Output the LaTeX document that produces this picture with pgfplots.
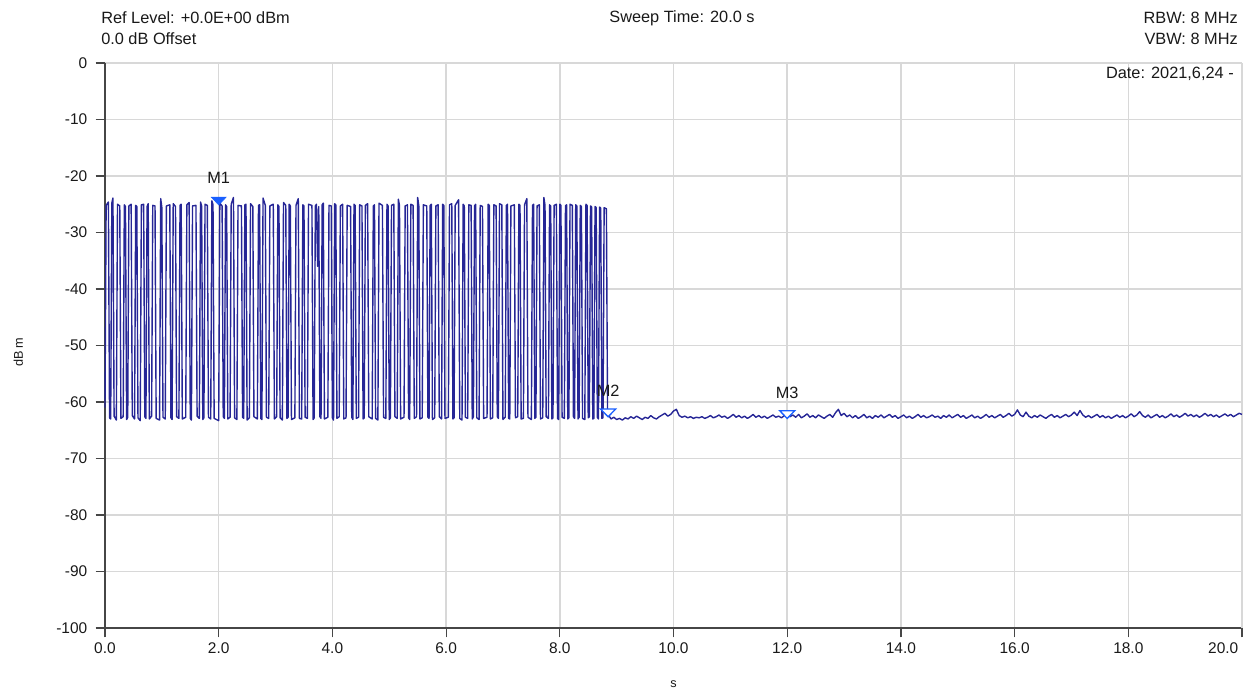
\documentclass[border=0pt]{standalone}
\usepackage{pgfplots}
\pgfplotsset{compat=1.18}
\usepackage{fontspec}
\setmainfont{Liberation Sans}
\definecolor{trace}{RGB}{38,38,150}
\definecolor{mk}{RGB}{25,95,255}
\definecolor{gridc}{RGB}{216,216,216}
\definecolor{axc}{RGB}{70,70,70}
\definecolor{txt}{RGB}{25,25,25}
\begin{document}
\fontsize{12.25}{14}\selectfont
\begin{tikzpicture}
\begin{axis}[
 scale only axis, width=852.75pt, height=423.75pt,
 xmin=0, xmax=20, ymin=-100, ymax=0,
 axis x line*=bottom, axis y line*=left,
 xtick={0,2,4,6,8,10,12,14,16,18},
 extra x ticks={20},
 extra x tick style={grid=major, x tick label style={anchor=north east, xshift=1.5pt}},
 ytick={-100,-90,-80,-70,-60,-50,-40,-30,-20,-10,0},
 grid=major, major grid style={draw=gridc, line width=1.1pt},
 axis line style={draw=axc, line width=1.4pt},
 tick align=outside, major tick length=7pt,
 tick style={draw=axc, line width=0.9pt},
 x tick label style={/pgf/number format/fixed, /pgf/number format/fixed zerofill, /pgf/number format/precision=1},
 y tick label style={xshift=-2pt},
 /pgf/number format/assume math mode=true,
 ticklabel style={font=\fontsize{11.6}{13}\selectfont, text=txt},
 xlabel={s}, ylabel={dB\,m},
 xlabel style={at={(axis description cs:0.5,0)}, anchor=center, yshift=-42pt, font=\fontsize{9.5}{11}\selectfont, text=txt},
 ylabel style={at={(axis description cs:-0.0762,0.488)}, anchor=center, font=\fontsize{9.5}{11}\selectfont, text=txt},
 clip=false,
]
\addplot[color=trace, line width=1.05pt, line join=round] table {
x y
0.00 -61.0
0.02 -25.2
0.06 -24.6
0.08 -62.8
0.10 -63.0
0.12 -24.8
0.14 -23.9
0.16 -62.5
0.20 -63.2
0.22 -25.0
0.26 -25.3
0.28 -62.9
0.32 -62.6
0.34 -25.1
0.36 -25.4
0.38 -63.1
0.40 -62.7
0.42 -25.3
0.46 -25.0
0.48 -62.4
0.52 -63.0
0.54 -25.2
0.56 -25.4
0.58 -62.8
0.62 -63.3
0.64 -25.1
0.68 -25.0
0.70 -62.6
0.72 -62.9
0.74 -25.4
0.76 -24.9
0.78 -63.0
0.82 -62.5
0.84 -25.2
0.88 -25.3
0.90 -62.9
0.96 -63.2
0.98 -24.0
1.00 -25.6
1.02 -62.7
1.06 -63.0
1.08 -25.3
1.14 -25.1
1.16 -62.8
1.18 -63.1
1.20 -24.9
1.24 -25.4
1.26 -62.6
1.30 -62.9
1.32 -25.2
1.34 -25.0
1.36 -63.0
1.42 -62.7
1.44 -25.1
1.48 -24.7
1.50 -62.9
1.52 -63.2
1.54 -25.3
1.60 -25.2
1.62 -62.5
1.66 -62.9
1.68 -24.6
1.70 -25.3
1.72 -63.1
1.74 -62.8
1.76 -25.0
1.80 -25.2
1.82 -62.7
1.86 -63.0
1.88 -24.4
1.90 -25.1
1.92 -62.9
2.00 -63.3
2.02 -24.8
2.06 -25.3
2.08 -62.6
2.10 -62.9
2.12 -25.1
2.14 -25.4
2.16 -63.0
2.20 -62.7
2.22 -25.0
2.26 -23.8
2.28 -62.8
2.32 -63.1
2.34 -25.2
2.40 -25.3
2.42 -62.7
2.44 -62.9
2.46 -25.1
2.48 -25.0
2.50 -63.2
2.54 -62.8
2.56 -24.9
2.60 -25.4
2.62 -62.6
2.68 -63.0
2.70 -25.2
2.72 -25.1
2.74 -62.9
2.76 -63.1
2.78 -23.9
2.82 -25.2
2.84 -62.7
2.88 -62.9
2.90 -25.3
2.96 -25.0
2.98 -63.0
3.02 -62.6
3.04 -25.1
3.06 -25.4
3.08 -62.8
3.12 -63.2
3.14 -24.7
3.18 -25.2
3.20 -62.9
3.22 -62.7
3.24 -25.0
3.26 -25.3
3.28 -63.1
3.34 -62.8
3.36 -25.2
3.40 -24.0
3.42 -62.9
3.46 -63.0
3.48 -25.1
3.50 -25.3
3.52 -62.7
3.56 -62.9
3.58 -25.0
3.64 -25.2
3.66 -63.1
3.68 -62.8
3.70 -25.3
3.72 -25.0
3.74 -36.0
3.76 -25.4
3.78 -62.6
3.80 -62.9
3.82 -25.1
3.84 -24.8
3.86 -63.0
3.92 -62.7
3.94 -25.2
3.98 -25.3
4.00 -62.8
4.02 -63.2
4.04 -24.9
4.06 -25.1
4.08 -62.9
4.12 -62.6
4.14 -25.3
4.18 -25.0
4.20 -63.0
4.24 -62.8
4.26 -25.2
4.32 -25.4
4.34 -62.7
4.36 -63.1
4.38 -25.0
4.40 -25.2
4.42 -62.9
4.46 -62.7
4.48 -25.1
4.52 -25.3
4.54 -63.0
4.56 -62.8
4.58 -25.2
4.62 -24.9
4.64 -62.6
4.70 -63.0
4.72 -25.3
4.74 -25.1
4.76 -62.9
4.80 -63.2
4.82 -24.8
4.88 -25.2
4.90 -62.7
4.94 -62.9
4.96 -25.0
4.98 -25.3
5.00 -63.1
5.02 -62.8
5.04 -25.2
5.08 -25.0
5.10 -62.6
5.14 -62.9
5.16 -24.1
5.18 -25.2
5.20 -63.0
5.26 -62.7
5.28 -25.3
5.32 -25.1
5.34 -62.8
5.36 -63.1
5.38 -25.0
5.42 -25.2
5.44 -62.9
5.48 -62.6
5.50 -23.8
5.52 -25.3
5.54 -63.0
5.58 -62.8
5.60 -25.1
5.66 -25.3
5.68 -62.7
5.70 -62.9
5.72 -25.2
5.74 -25.0
5.76 -63.1
5.80 -62.8
5.82 -25.3
5.86 -25.1
5.88 -62.6
5.92 -63.0
5.94 -25.0
5.96 -25.2
5.98 -62.9
6.04 -62.7
6.06 -25.1
6.10 -24.9
6.12 -63.0
6.14 -62.8
6.16 -25.2
6.22 -24.2
6.24 -62.9
6.28 -63.2
6.30 -25.0
6.32 -25.3
6.34 -62.7
6.38 -62.9
6.40 -25.1
6.44 -25.2
6.46 -63.0
6.48 -62.6
6.50 -25.3
6.52 -25.0
6.54 -62.8
6.58 -63.1
6.60 -25.2
6.64 -25.4
6.66 -62.9
6.72 -62.7
6.74 -25.0
6.76 -25.2
6.78 -63.0
6.82 -62.8
6.84 -25.1
6.88 -25.3
6.90 -62.6
6.92 -62.9
6.94 -24.9
6.98 -25.1
7.00 -63.1
7.04 -62.7
7.06 -25.2
7.08 -25.0
7.10 -62.9
7.12 -63.0
7.14 -25.3
7.20 -25.1
7.22 -62.8
7.26 -62.6
7.28 -25.0
7.30 -25.2
7.32 -63.0
7.36 -62.9
7.38 -25.1
7.42 -24.0
7.44 -62.7
7.50 -63.1
7.52 -25.2
7.54 -25.0
7.56 -62.9
7.58 -62.7
7.60 -25.3
7.64 -25.1
7.66 -63.0
7.70 -62.8
7.72 -23.8
7.74 -25.2
7.76 -62.6
7.80 -62.9
7.82 -25.1
7.84 -25.3
7.86 -63.0
7.88 -62.8
7.90 -25.2
7.94 -25.0
7.96 -62.9
7.98 -63.1
8.00 -25.0
8.02 -25.2
8.04 -62.7
8.08 -62.9
8.10 -25.3
8.12 -25.1
8.14 -63.0
8.16 -62.8
8.18 -25.0
8.22 -25.2
8.24 -62.6
8.26 -62.9
8.28 -25.1
8.30 -25.3
8.32 -63.0
8.34 -62.7
8.36 -25.2
8.38 -25.4
8.40 -62.9
8.44 -63.1
8.46 -25.0
8.48 -25.2
8.50 -62.8
8.52 -62.6
8.54 -25.3
8.56 -25.5
8.58 -63.0
8.60 -62.9
8.62 -25.4
8.64 -25.6
8.66 -62.7
8.68 -63.0
8.70 -25.5
8.72 -25.7
8.74 -62.9
8.76 -62.8
8.78 -25.6
8.82 -25.8
8.84 -62.0
8.90 -63.0
8.95 -62.7
9.00 -63.1
9.05 -62.9
9.10 -63.2
9.15 -62.8
9.20 -63.0
9.25 -62.6
9.30 -62.9
9.35 -62.5
9.40 -62.8
9.45 -63.1
9.50 -62.7
9.55 -62.9
9.60 -62.4
9.65 -62.8
9.70 -63.0
9.75 -62.6
9.80 -62.3
9.85 -62.0
9.90 -62.5
9.95 -62.2
10.00 -61.6
10.05 -61.3
10.10 -62.4
10.15 -62.7
10.20 -62.5
10.25 -62.8
10.30 -62.6
10.35 -62.9
10.40 -62.7
10.45 -62.8
10.50 -62.6
10.55 -62.9
10.60 -62.7
10.65 -62.4
10.70 -62.8
10.75 -62.6
10.80 -62.3
10.85 -62.7
10.90 -62.5
10.95 -62.9
11.00 -62.6
11.05 -62.2
11.10 -62.7
11.15 -62.4
11.20 -62.8
11.25 -62.5
11.30 -62.9
11.35 -62.6
11.40 -62.2
11.45 -62.7
11.50 -62.4
11.55 -62.8
11.60 -62.5
11.65 -62.9
11.70 -62.6
11.75 -62.3
11.80 -62.7
11.85 -62.5
11.90 -62.8
11.95 -62.4
12.00 -62.2
12.05 -62.6
12.10 -62.3
12.15 -62.7
12.20 -62.2
12.25 -62.8
12.30 -62.5
12.35 -62.1
12.40 -62.7
12.45 -62.4
12.50 -62.8
12.55 -62.3
12.60 -62.6
12.65 -62.9
12.70 -62.5
12.75 -62.2
12.80 -62.7
12.85 -61.9
12.90 -61.3
12.95 -62.4
13.00 -62.0
13.05 -62.6
13.10 -62.3
13.15 -62.8
13.20 -62.4
13.25 -62.9
13.30 -62.6
13.35 -62.2
13.40 -62.8
13.45 -62.5
13.50 -62.9
13.55 -62.4
13.60 -62.7
13.65 -62.3
13.70 -62.8
13.75 -62.5
13.80 -62.2
13.85 -62.7
13.90 -62.4
13.95 -62.9
14.00 -62.6
14.05 -62.3
14.10 -62.8
14.15 -62.5
14.20 -62.9
14.25 -62.6
14.30 -62.2
14.35 -62.7
14.40 -62.4
14.45 -62.8
14.50 -62.6
14.55 -62.3
14.60 -62.7
14.65 -62.5
14.70 -62.9
14.75 -62.4
14.80 -62.7
14.85 -62.3
14.90 -62.8
14.95 -62.5
15.00 -62.2
15.05 -62.7
15.10 -62.4
15.15 -62.9
15.20 -62.6
15.25 -62.3
15.30 -62.8
15.35 -62.5
15.40 -62.9
15.45 -62.6
15.50 -62.2
15.55 -62.7
15.60 -62.4
15.65 -62.8
15.70 -62.5
15.75 -62.2
15.80 -62.7
15.85 -62.4
15.90 -62.0
15.95 -62.5
16.00 -62.2
16.05 -61.4
16.10 -62.3
16.15 -62.6
16.20 -61.8
16.25 -62.5
16.30 -62.8
16.35 -62.4
16.40 -62.7
16.45 -62.3
16.50 -62.6
16.55 -62.9
16.60 -62.5
16.65 -62.2
16.70 -62.7
16.75 -62.4
16.80 -62.8
16.85 -62.5
16.90 -62.2
16.95 -62.6
17.00 -62.3
17.05 -61.8
17.10 -62.4
17.15 -61.5
17.20 -62.3
17.25 -62.7
17.30 -62.4
17.35 -62.8
17.40 -62.5
17.45 -62.2
17.50 -62.7
17.55 -62.4
17.60 -62.8
17.65 -62.5
17.70 -62.9
17.75 -62.6
17.80 -62.3
17.85 -62.7
17.90 -62.4
17.95 -62.8
18.00 -62.5
18.05 -62.1
18.10 -62.6
18.15 -62.3
18.20 -61.7
18.25 -62.4
18.30 -62.7
18.35 -62.3
18.40 -62.8
18.45 -62.5
18.50 -62.2
18.55 -62.7
18.60 -62.4
18.65 -62.8
18.70 -62.5
18.75 -62.1
18.80 -62.6
18.85 -62.3
18.90 -62.7
18.95 -62.4
19.00 -62.0
19.05 -62.5
19.10 -62.2
19.15 -62.6
19.20 -62.3
19.25 -62.7
19.30 -62.4
19.35 -62.0
19.40 -62.5
19.45 -62.2
19.50 -62.6
19.55 -62.3
19.60 -62.7
19.65 -62.4
19.70 -62.1
19.75 -62.5
19.80 -62.2
19.85 -62.6
19.90 -62.3
19.95 -62.0
20.00 -62.2
};
% marker M1 (filled)
\addplot[only marks, mark=triangle*, mark size=6.5pt, color=mk,
  mark options={rotate=180, yscale=0.6, fill=mk, draw=mk},
  nodes near coords, point meta=explicit symbolic,
  every node near coord/.style={anchor=center, yshift=16.5pt, text=txt, font=\fontsize{12.25}{14}\selectfont}]
  coordinates {(2.0,-24.2) [M1]};
% markers M2, M3 (outlined)
\addplot[only marks, mark=triangle*, mark size=6.5pt, color=mk,
  mark options={rotate=180, yscale=0.6, fill=white, draw=mk, line width=1pt},
  nodes near coords, point meta=explicit symbolic,
  every node near coord/.style={anchor=center, yshift=15.5pt, text=txt, font=\fontsize{12.25}{14}\selectfont}]
  coordinates {(8.85,-61.7) [M2] (12.0,-62.0) [M3]};
\end{axis}
\node[anchor=west, text=txt, inner sep=0pt] at ([xshift=-3pt, yshift=33.75pt]current axis.north west) {Ref Level: +0.0E+00 dBm};
\node[anchor=west, text=txt, inner sep=0pt] at ([xshift=-3pt, yshift=18pt]current axis.north west) {0.0 dB Offset};
\node[anchor=center, text=txt, inner sep=0pt] at ([xshift=432.75pt, yshift=33.75pt]current axis.north west) {Sweep Time: 20.0 s};
\node[anchor=east, text=txt, inner sep=0pt] at ([xshift=-3pt, yshift=33.75pt]current axis.north east) {RBW: 8 MHz};
\node[anchor=east, text=txt, inner sep=0pt] at ([xshift=-3pt, yshift=18pt]current axis.north east) {VBW: 8 MHz};
\node[anchor=east, text=txt, inner sep=0pt] at ([xshift=-6pt, yshift=-8.25pt]current axis.north east) {Date: 2021,6,24 -};
\path ([xshift=-78.75pt, yshift=-48pt]current axis.south west) rectangle ([xshift=3pt, yshift=47.25pt]current axis.north east);
\end{tikzpicture}
\end{document}
